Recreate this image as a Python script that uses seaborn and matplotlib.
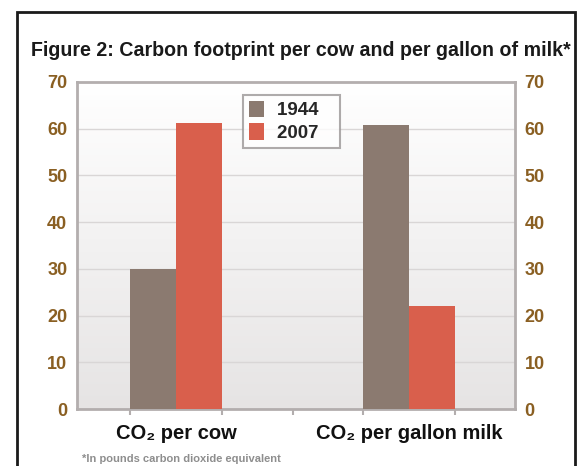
import numpy as np
import pandas as pd
import matplotlib
matplotlib.use("Agg")
import matplotlib.pyplot as plt
from matplotlib.patches import Rectangle
import seaborn as sns

# Data
categories = ["CO\u2082 per cow", "CO\u2082 per gallon milk"]
years = ["1944", "2007"]
values_1944 = [30, 60.8]
values_2007 = [61.3, 22]
y_ticks = [0, 10, 20, 30, 40, 50, 60, 70]

df = pd.DataFrame({
    "category": categories * 2,
    "year": [years[0]] * 2 + [years[1]] * 2,
    "value": values_1944 + values_2007,
})

sns.set_theme(style="white")
plt.rcParams["font.family"] = ["Liberation Sans", "DejaVu Sans"]

palette = {"1944": "#8b7a70", "2007": "#d95f4c"}
tick_color = "#8a5f22"

fig = plt.figure(figsize=(5.84, 4.66), dpi=100)
fig.patch.set_facecolor("white")

# outer frame
fig.add_artist(Rectangle((17 / 584, -0.05), (575 - 17) / 584, 1.05 - 12 / 466,
                         transform=fig.transFigure, fill=False,
                         edgecolor="#1a1a1a", linewidth=2.0))

ax = fig.add_axes([77 / 584, 1 - 409 / 466, (515 - 77) / 584, (409 - 82) / 466])

# soft vertical gradient inside the plot area
grad = np.linspace(1, 0, 256).reshape(-1, 1)
ax.imshow(grad, extent=[0, 1, 0, 1], transform=ax.transAxes, aspect="auto",
          cmap=matplotlib.colors.LinearSegmentedColormap.from_list(
              "bg", ["#e6e4e4", "#ffffff"]), zorder=0)

sns.barplot(data=df, x="category", y="value", hue="year", hue_order=years,
            order=categories, palette=palette, width=0.394, gap=0,
            saturation=1, linewidth=0, ax=ax, zorder=3, legend=True)

ax.set_xlim(-0.424, 1.452)
ax.set_ylim(0, 70)
ax.set_yticks(y_ticks)
for y in y_ticks[1:-1]:
    ax.axhline(y, color="#d9d6d6", linewidth=1.0, zorder=1)

for s in ax.spines.values():
    s.set_visible(True)
    s.set_color("#b3aeae")
    s.set_linewidth(2.0)

ax.set_xlabel("")
ax.set_ylabel("")
ax.tick_params(axis="y", length=0, pad=7, labelsize=13, labelcolor=tick_color)
for lbl in ax.get_yticklabels():
    lbl.set_fontweight("bold")

# x tick marks at bar edges and the category divider; labels at category centres
half = 0.394 / 2
edges = [0 - half, 0 + half, 0.5, 1 - half, 1 + half]
ax.set_xticks(edges, minor=True)
ax.tick_params(axis="x", which="minor", length=4, width=1.5, color="#b3aeae",
               direction="out", bottom=True)
ax.set_xticks([0, 1])
ax.set_xticklabels(categories, fontsize=14.5, fontweight="bold", color="#111111")
ax.tick_params(axis="x", which="major", length=0, pad=11)

# right-hand axis mirrors the scale
ax2 = ax.twinx()
ax2.set_ylim(0, 70)
ax2.set_yticks(y_ticks)
ax2.tick_params(axis="y", length=0, pad=7, labelsize=13, labelcolor=tick_color)
for lbl in ax2.get_yticklabels():
    lbl.set_fontweight("bold")
for s in ax2.spines.values():
    s.set_visible(False)

leg = ax.legend(loc="upper left", bbox_to_anchor=((243 - 77) / 438, 1 - (95 - 82) / 327),
                frameon=True, fancybox=False, fontsize=13.5, handlelength=0.8,
                handleheight=1.0, handletextpad=0.7, borderpad=0.3,
                labelspacing=0.2, borderaxespad=0)
leg.get_frame().set_edgecolor("#9a9696")
leg.get_frame().set_linewidth(1.5)
for t in leg.get_texts():
    t.set_fontweight("bold")
    t.set_text(t.get_text() + "   ")
leg.set_zorder(5)

fig.text(301 / 584, 1 - 50 / 466, "Figure 2: Carbon footprint per cow and per gallon of milk*",
         ha="center", va="center", fontsize=14.1, fontweight="bold", color="#1a1a1a")
fig.text(82 / 584, 1 - 459 / 466, "*In pounds carbon dioxide equivalent",
         ha="left", va="center", fontsize=8, fontweight="bold", color="#8e8e8e")

fig.savefig("out.png", dpi=100, facecolor="white")
